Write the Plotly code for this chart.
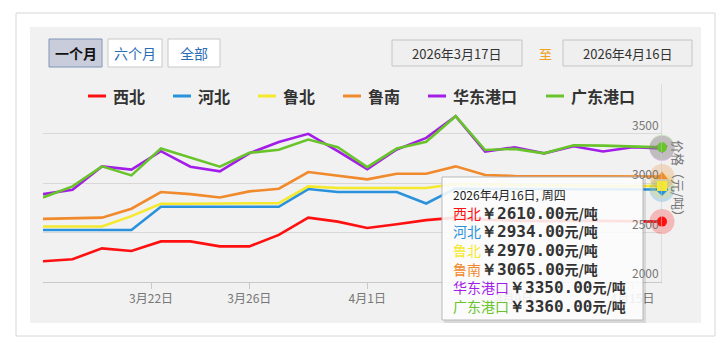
import plotly.graph_objects as go
import numpy as np
from datetime import date

# ---------------- data ----------------
dates = ["2026-03-17", "2026-03-18", "2026-03-19", "2026-03-20", "2026-03-23", "2026-03-24",
         "2026-03-25", "2026-03-26", "2026-03-27", "2026-03-30", "2026-03-31", "2026-04-01",
         "2026-04-02", "2026-04-03", "2026-04-07", "2026-04-08", "2026-04-09", "2026-04-10",
         "2026-04-13", "2026-04-14", "2026-04-15", "2026-04-16"]

series_names = ["西北", "河北", "鲁北", "鲁南", "华东港口", "广东港口"]
series_colors = ["#ff1010", "#2a92dc", "#f5e92e", "#f08a2c", "#a31de8", "#68c42a"]
series_symbols = ["circle", "diamond", "square", "triangle-up", "triangle-down", "circle"]

xibei = [2210, 2230, 2340, 2313, 2410, 2410, 2360, 2360, 2476, 2650, 2610, 2545,
         2584, 2625, 2650, 2630, 2620, 2615, 2620, 2615, 2610, 2610]
hebei = [2526, 2526, 2526, 2526, 2760, 2760, 2760, 2760, 2760, 2939, 2909, 2909,
         2909, 2793, 2945, 2940, 2940, 2935, 2935, 2934, 2934, 2934]
lubei = [2560, 2560, 2560, 2665, 2790, 2790, 2790, 2790, 2797, 2966, 2949, 2949,
         2949, 2949, 2990, 2985, 2980, 2975, 2975, 2970, 2970, 2970]
lunan = [2638, 2645, 2650, 2740, 2909, 2888, 2854, 2915, 2942, 3111, 3071, 3037,
         3094, 3094, 3168, 3080, 3070, 3070, 3068, 3065, 3065, 3065]
huadong = [2888, 2932, 3168, 3135, 3321, 3165, 3118, 3300, 3414, 3497, 3321, 3140,
           3338, 3456, 3675, 3318, 3361, 3300, 3371, 3318, 3361, 3350]
guangdong = [2854, 2966, 3168, 3077, 3348, 3253, 3165, 3305, 3335, 3439, 3361, 3160,
             3348, 3416, 3675, 3333, 3345, 3300, 3381, 3378, 3372, 3360]
series_values = [xibei, hebei, lubei, lunan, huadong, guangdong]

tick_dates = ["2026-03-22", "2026-03-26", "2026-04-01", "2026-04-09", "2026-04-15"]
tick_labels = ["3月22日", "3月26日", "4月1日", "4月9日", "4月15日"]
y_ticks = [2000, 2500, 3000, 3500, 4000]
y_range = [2000, 4000]

range_buttons = ["一个月", "六个月", "全部"]
start_label = "2026年3月17日"
end_label = "2026年4月16日"
y_title = "价格（元/吨）"
unit = "元/吨"

# ---------------- geometry ----------------
W, H = 725, 345
L, R, T, B = 43, 63, 84, 63
PW, PH = W - L - R, H - T - B
FONT = "Noto Sans CJK SC"


def X(px):
    return (px - L) / PW


def Y(py):
    return (H - B - py) / PH


def ann(px, py, text, size, color, xanchor="center", **kw):
    d = dict(xref="paper", yref="paper", x=X(px), y=Y(py), xanchor=xanchor, yanchor="middle",
             showarrow=False, text=text, font=dict(family=FONT, size=size, color=color))
    d.update(kw)
    return d


idx = np.arange(len(dates))
ords = np.array([date.fromisoformat(d).toordinal() for d in dates])
tick_pos = np.interp([date.fromisoformat(d).toordinal() for d in tick_dates], ords, idx)

fig = go.Figure()

for name, col, vals in zip(series_names, series_colors, series_values):
    fig.add_trace(go.Scatter(x=idx, y=vals, mode="lines", name=name,
                             line=dict(color=col, width=2.6), hoverinfo="skip",
                             showlegend=False))

# hover halos + markers at last point
for name, col, sym, vals in zip(series_names, series_colors, series_symbols, series_values):
    fig.add_trace(go.Scatter(x=[idx[-1]], y=[vals[-1]], mode="markers", cliponaxis=False,
                             marker=dict(size=25, color=col, opacity=0.25, line=dict(width=0)),
                             hoverinfo="skip", showlegend=False))
for name, col, sym, vals in zip(series_names, series_colors, series_symbols, series_values):
    fig.add_trace(go.Scatter(x=[idx[-1]], y=[vals[-1]], mode="markers", cliponaxis=False,
                             marker=dict(size=10, color=col, symbol=sym, line=dict(width=0)),
                             hoverinfo="skip", showlegend=False))

shapes = []
annotations = []

# outer and inner frame
shapes.append(dict(type="rect", xref="paper", yref="paper", x0=X(16), x1=X(715), y0=Y(336), y1=Y(13),
                   line=dict(color="#d6d6d6", width=1), fillcolor="white", layer="below"))
shapes.append(dict(type="rect", xref="paper", yref="paper", x0=X(30), x1=X(701), y0=Y(323), y1=Y(27),
                   line=dict(width=0), fillcolor="#f1f1f1", layer="below"))

# range buttons
btn_x = [(49, 102), (108, 162), (168, 220)]
for i, (lab, (a, b)) in enumerate(zip(range_buttons, btn_x)):
    sel = i == 0
    shapes.append(dict(type="rect", xref="paper", yref="paper", x0=X(a), x1=X(b), y0=Y(67), y1=Y(39),
                       line=dict(color="#8096b8" if sel else "#c8c8c8", width=1),
                       fillcolor="#c9ccda" if sel else "white", layer="below"))
    annotations.append(ann((a + b) / 2, 53, f"<b>{lab}</b>" if sel else lab, 14,
                           "#111" if sel else "#2a6db5"))

# date boxes
for lab, (a, b) in zip([start_label, end_label], [(392, 522), (563, 692)]):
    shapes.append(dict(type="rect", xref="paper", yref="paper", x0=X(a), x1=X(b), y0=Y(66), y1=Y(40),
                       line=dict(color="#c4c4c4", width=1), fillcolor="#efefef", layer="below"))
    annotations.append(ann((a + b) / 2, 53, lab, 13, "#333"))
annotations.append(ann(545, 53, "至", 13, "#f0a020"))

# legend (manual, Highcharts style)
lx = 88
for name, col in zip(series_names, series_colors):
    shapes.append(dict(type="line", xref="paper", yref="paper", x0=X(lx), x1=X(lx + 18), y0=Y(96), y1=Y(96),
                       line=dict(color=col, width=3)))
    annotations.append(ann(lx + 23, 96, f"<b>{name}</b>", 16, "#333", xanchor="left"))
    lx += 18 + 6 + 16.5 * len(name) + 28

# crosshair
shapes.append(dict(type="line", xref="x", yref="paper", x0=idx[-1], x1=idx[-1], y0=0, y1=1,
                   line=dict(color="#c8c8c8", width=1)))

# y tick labels (inside, right, above gridline)
for v in y_ticks[:-1]:
    annotations.append(dict(xref="paper", yref="y", x=X(661), y=v, xanchor="right", yanchor="bottom",
                            showarrow=False, text=str(v), yshift=-1,
                            font=dict(family=FONT, size=12, color="#777")))

annotations.append(ann(679, 181, y_title, 13, "#777", textangle=90))

# tooltip
tx0, tx1, ty0, ty1 = 442, 643, 177, 320
shapes.append(dict(type="rect", xref="paper", yref="paper", x0=X(tx0 + 2), x1=X(tx1 + 3), y0=Y(ty1 + 3), y1=Y(ty0 + 2),
                   line=dict(width=0), fillcolor="rgba(0,0,0,0.10)", layer="above"))
shapes.append(dict(type="rect", xref="paper", yref="paper", x0=X(tx0), x1=X(tx1), y0=Y(ty1), y1=Y(ty0),
                   line=dict(color="#b8b8b8", width=1), fillcolor="rgba(255,255,255,0.88)", layer="above"))
last = date.fromisoformat(dates[-1])
wk = "一二三四五六日"[last.weekday()]
annotations.append(ann(451, 194, f"{last.year}年{last.month}月{last.day}日, 周{wk}", 12, "#222",
                       xanchor="left"))
MONO = "font-family:'DejaVu Sans Mono';font-size:16px"
for i, (name, col, vals) in enumerate(zip(series_names, series_colors, series_values)):
    annotations.append(ann(451, 212.5 + 18.7 * i,
                           f"<span style='color:{col}'>{name}</span>"
                           f"<b><span style=\"{MONO}\">￥{vals[-1]:.2f}</span>{unit}</b>",
                           14, "#333", xanchor="left"))

fig.update_layout(
    width=W, height=H,
    margin=dict(l=L, r=R, t=T, b=B),
    paper_bgcolor="white", plot_bgcolor="rgba(0,0,0,0)",
    showlegend=False,
    hovermode=False,
    shapes=shapes, annotations=annotations,
    xaxis=dict(range=[0, len(dates) - 1], showgrid=False, zeroline=False,
               showline=True, linecolor="#c8c8c8", linewidth=1,
               tickmode="array", tickvals=tick_pos, ticktext=tick_labels,
               ticks="outside", ticklen=6, tickcolor="#c8c8c8",
               tickfont=dict(family=FONT, size=12, color="#777")),
    yaxis=dict(range=y_range, tickmode="array", tickvals=y_ticks, showticklabels=False,
               showgrid=True, gridcolor="#d8d8d8", gridwidth=1, zeroline=False, side="right"),
)

fig.write_html("out.html")
